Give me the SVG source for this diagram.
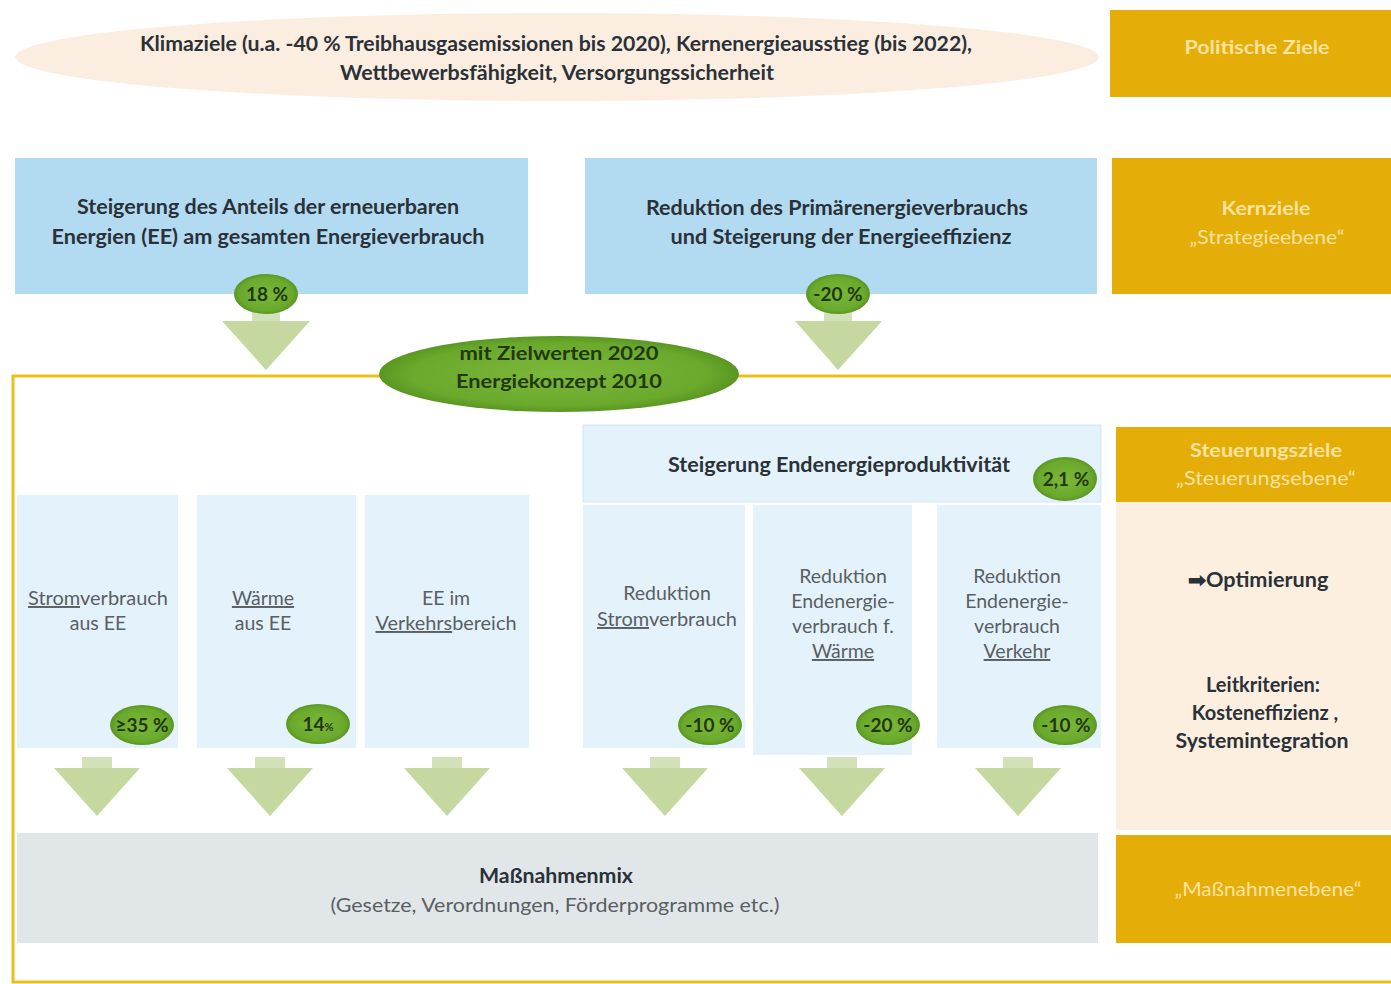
<svg xmlns="http://www.w3.org/2000/svg" width="1391" height="984" viewBox="0 0 1391 984">
  <style>
    .t { font-family: Lato, "Open Sans", "Liberation Sans", sans-serif; text-anchor: middle; }
    .b { font-weight: bold; fill: #2b3138; font-size: 20px; }
    .r { fill: #5a5f63; font-size: 19.5px; }
    .gold { fill: #e5ad08; }
    .goldtxt { fill: #fbe3a0; font-size: 19px; }
    .blue { fill: #b2dbf1; }
    .pale { fill: #e4f2fb; }
    .badge { fill: url(#badgeGrad); }
    .bt { font-weight: bold; fill: #22380f; font-size: 19px; }
    .arrow { fill: #c4d89f; }
    .stem { fill: #d3e1b9; }
    .u { text-decoration: underline; }
  </style>
  <defs>
    <radialGradient id="badgeGrad" cx="50%" cy="50%" r="55%">
      <stop offset="0" stop-color="#7cb83a"/>
      <stop offset="0.75" stop-color="#6aa92c"/>
      <stop offset="1" stop-color="#4f8c1c"/>
    </radialGradient>
  </defs>

  <rect width="1391" height="984" fill="#ffffff"/>

  <!-- frame of the control level -->
  <path d="M1391,376 H13 V982 H1391" fill="none" stroke="#e8c21a" stroke-width="3"/>

  <!-- political goals -->
  <g id="political">
    <ellipse cx="557" cy="57" rx="542" ry="44" fill="#fbeee0"/>
    <text class="t b" x="556" y="51" font-size="19" textLength="832" lengthAdjust="spacingAndGlyphs">Klimaziele (u.a. -40 % Treibhausgasemissionen bis 2020), Kernenergieausstieg (bis 2022),</text>
    <text class="t b" x="557" y="80" font-size="19" textLength="434" lengthAdjust="spacingAndGlyphs">Wettbewerbsfähigkeit, Versorgungssicherheit</text>
  </g>
  <g id="label-politische">
    <rect class="gold" x="1110" y="10" width="281" height="87"/>
    <text class="t goldtxt" x="1257" y="54" font-weight="bold" textLength="145" lengthAdjust="spacingAndGlyphs">Politische Ziele</text>
  </g>

  <!-- core goals -->
  <g id="core-ee">
    <rect class="blue" x="15" y="158" width="513" height="136"/>
    <text class="t b" x="268" y="214" textLength="382" lengthAdjust="spacingAndGlyphs">Steigerung des Anteils der erneuerbaren</text>
    <text class="t b" x="268" y="244" textLength="433" lengthAdjust="spacingAndGlyphs">Energien (EE) am gesamten Energieverbrauch</text>
  </g>
  <g id="core-eff">
    <rect class="blue" x="585" y="158" width="512" height="136"/>
    <text class="t b" x="837" y="215" textLength="382" lengthAdjust="spacingAndGlyphs">Reduktion des Primärenergieverbrauchs</text>
    <text class="t b" x="841" y="244" textLength="341" lengthAdjust="spacingAndGlyphs">und Steigerung der Energieeffizienz</text>
  </g>
  <g id="label-kernziele">
    <rect class="gold" x="1112" y="158" width="279" height="136"/>
    <text class="t goldtxt" x="1266" y="215" font-weight="bold" textLength="89" lengthAdjust="spacingAndGlyphs">Kernziele</text>
    <text class="t goldtxt" x="1267" y="244" textLength="155" lengthAdjust="spacingAndGlyphs">„Strategieebene“</text>
  </g>

  <!-- arrows -->
  <g id="connectors">
    <rect class="stem" x="252" y="308" width="28" height="16"/>
    <polygon class="arrow" points="222,321 310,321 266,370"/>
    <rect class="stem" x="824" y="308" width="28" height="16"/>
    <polygon class="arrow" points="795,321 882,321 838,370"/>

    <rect class="stem" x="82" y="757" width="30" height="13"/>
    <polygon class="arrow" points="54,768 140,768 97,816"/>
    <rect class="stem" x="255" y="757" width="30" height="13"/>
    <polygon class="arrow" points="227,768 313,768 270,816"/>
    <rect class="stem" x="432" y="757" width="30" height="13"/>
    <polygon class="arrow" points="404,768 490,768 447,816"/>
    <rect class="stem" x="650" y="757" width="30" height="13"/>
    <polygon class="arrow" points="622,768 708,768 665,816"/>
    <rect class="stem" x="827" y="757" width="30" height="13"/>
    <polygon class="arrow" points="799,768 885,768 842,816"/>
    <rect class="stem" x="1003" y="757" width="30" height="13"/>
    <polygon class="arrow" points="975,768 1061,768 1018,816"/>
  </g>

  <g id="badge-18">
    <ellipse class="badge" cx="266" cy="294" rx="32" ry="20"/>
    <text class="t bt" x="267" y="301">18 %</text>
  </g>
  <g id="badge-20">
    <ellipse class="badge" cx="838" cy="294" rx="32" ry="20"/>
    <text class="t bt" x="838" y="301">-20 %</text>
  </g>

  <g id="target-values">
    <ellipse class="badge" cx="559" cy="374" rx="180" ry="38"/>
    <text class="t bt" x="559" y="360" font-size="19.5" textLength="199" lengthAdjust="spacingAndGlyphs">mit Zielwerten 2020</text>
    <text class="t bt" x="559" y="388" font-size="19.5" textLength="206" lengthAdjust="spacingAndGlyphs">Energiekonzept 2010</text>
  </g>

  <!-- control level -->
  <g id="productivity">
    <rect x="583" y="425" width="518" height="77" fill="#e4f2fb" stroke="#d3e6f2" stroke-width="1"/>
    <text class="t b" x="839" y="472" textLength="342" lengthAdjust="spacingAndGlyphs">Steigerung Endenergieproduktivität</text>
    <ellipse class="badge" cx="1065" cy="479" rx="32" ry="22"/>
    <text class="t bt" x="1066" y="486">2,1 %</text>
  </g>

  <g id="col-strom-ee">
    <rect class="pale" x="17" y="495" width="161" height="253"/>
    <text class="t r" x="98" y="605" textLength="140" lengthAdjust="spacingAndGlyphs"><tspan class="u">Strom</tspan>verbrauch</text>
    <text class="t r" x="98" y="630">aus EE</text>
    <ellipse class="badge" cx="142" cy="725" rx="32" ry="20"/>
    <text class="t bt" x="142" y="732">≥35 %</text>
  </g>
  <g id="col-waerme-ee">
    <rect class="pale" x="197" y="495" width="159" height="253"/>
    <text class="t r" x="263" y="605"><tspan class="u">Wärme</tspan></text>
    <text class="t r" x="263" y="630">aus EE</text>
    <ellipse class="badge" cx="318" cy="724" rx="32" ry="20"/>
    <text class="t bt" x="318" y="731">14<tspan font-size="11">%</tspan></text>
  </g>
  <g id="col-verkehr-ee">
    <rect class="pale" x="365" y="495" width="164" height="253"/>
    <text class="t r" x="446" y="605">EE im</text>
    <text class="t r" x="446" y="630" textLength="141" lengthAdjust="spacingAndGlyphs"><tspan class="u">Verkehrs</tspan>bereich</text>
  </g>
  <g id="col-strom-red">
    <rect class="pale" x="583" y="505" width="162" height="243"/>
    <text class="t r" x="667" y="600">Reduktion</text>
    <text class="t r" x="667" y="626" textLength="140" lengthAdjust="spacingAndGlyphs"><tspan class="u">Strom</tspan>verbrauch</text>
    <ellipse class="badge" cx="710" cy="725" rx="32" ry="20"/>
    <text class="t bt" x="710" y="732">-10 %</text>
  </g>
  <g id="col-waerme-red">
    <rect class="pale" x="753" y="505" width="159" height="250"/>
    <text class="t r" x="843" y="583">Reduktion</text>
    <text class="t r" x="843" y="608">Endenergie-</text>
    <text class="t r" x="843" y="633">verbrauch f.</text>
    <text class="t r" x="843" y="658"><tspan class="u">Wärme</tspan></text>
    <ellipse class="badge" cx="888" cy="725" rx="32" ry="20"/>
    <text class="t bt" x="888" y="732">-20 %</text>
  </g>
  <g id="col-verkehr-red">
    <rect class="pale" x="937" y="505" width="164" height="243"/>
    <text class="t r" x="1017" y="583">Reduktion</text>
    <text class="t r" x="1017" y="608">Endenergie-</text>
    <text class="t r" x="1017" y="633">verbrauch</text>
    <text class="t r" x="1017" y="658"><tspan class="u">Verkehr</tspan></text>
    <ellipse class="badge" cx="1065" cy="725" rx="32" ry="20"/>
    <text class="t bt" x="1066" y="732">-10 %</text>
  </g>

  <g id="label-steuerung">
    <rect class="gold" x="1116" y="427" width="275" height="75"/>
    <text class="t goldtxt" x="1266" y="457" font-weight="bold" textLength="152" lengthAdjust="spacingAndGlyphs">Steuerungsziele</text>
    <text class="t goldtxt" x="1266" y="485" textLength="180" lengthAdjust="spacingAndGlyphs">„Steuerungsebene“</text>
  </g>
  <g id="criteria">
    <rect x="1116" y="502" width="275" height="328" fill="#fcefe0"/>
    <text class="t b" x="1258" y="587" textLength="141" lengthAdjust="spacingAndGlyphs">➡Optimierung</text>
    <text class="t b" x="1263" y="692">Leitkriterien:</text>
    <text class="t b" x="1265" y="720">Kosteneffizienz ,</text>
    <text class="t b" x="1262" y="748" textLength="173" lengthAdjust="spacingAndGlyphs">Systemintegration</text>
  </g>

  <g id="measures">
    <rect x="17" y="833" width="1081" height="110" fill="#e1e6e9"/>
    <text class="t b" x="556" y="883" textLength="154" lengthAdjust="spacingAndGlyphs">Maßnahmenmix</text>
    <text class="t r" x="555" y="912" textLength="449" lengthAdjust="spacingAndGlyphs">(Gesetze, Verordnungen, Förderprogramme etc.)</text>
  </g>
  <g id="label-massnahmen">
    <rect class="gold" x="1116" y="835" width="275" height="108"/>
    <text class="t goldtxt" x="1268" y="896" textLength="187" lengthAdjust="spacingAndGlyphs">„Maßnahmenebene“</text>
  </g>
</svg>
